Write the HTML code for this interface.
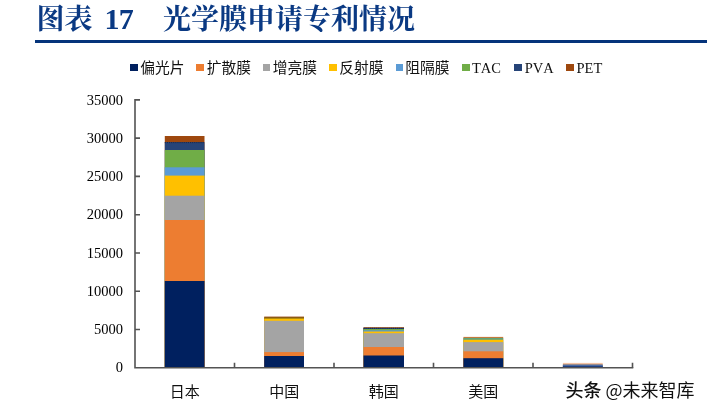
<!DOCTYPE html>
<html lang="zh">
<head>
<meta charset="utf-8">
<title>图表 17 光学膜申请专利情况</title>
<style>
html,body{margin:0;padding:0;background:#fff;}
body{width:707px;height:412px;position:relative;overflow:hidden;font-family:"Liberation Serif","Noto Sans CJK SC",serif;color:#111;font-kerning:none;}
.title{position:absolute;left:37px;top:0;height:40px;line-height:40px;font-size:28px;font-weight:700;color:#0a3983;font-family:"Liberation Serif","Noto Serif CJK SC",serif;white-space:pre;}
.title span{position:absolute;top:0;}
.title .num{font-size:30px;letter-spacing:-0.8px;top:-1.1px;}
.rule{position:absolute;left:34.9px;top:39.9px;width:672.2px;height:2.9px;background:#05347b;}
.legend{position:absolute;top:0;left:0;font-size:14.75px;line-height:20px;}
.legend .it{position:absolute;top:57.6px;white-space:nowrap;}
.legend .la{font-size:14.5px;}
.legend .sq{position:absolute;top:63.8px;width:7.5px;height:7.2px;}
.ylab{position:absolute;left:62.5px;width:60.6px;text-align:right;font-size:14.5px;color:#000;line-height:16px;font-family:"Liberation Serif",serif;}
.xlab{position:absolute;top:380.6px;width:60px;text-align:center;font-size:15px;line-height:20px;font-family:"Noto Sans CJK SC",sans-serif;}
.wm{position:absolute;left:565.4px;top:379.4px;font-size:18px;line-height:20px;font-family:"Noto Sans CJK SC",sans-serif;color:#111;white-space:nowrap;text-shadow:0 0 2px #fff,0 0 2px #fff,1px 1px 1px #fff,-1px -1px 1px #fff;}
.wm b{font-weight:500;}
svg{position:absolute;left:0;top:0;}
</style>
</head>
<body>
<div class="title"><span style="left:-0.6px">图表 </span><span class="num" style="left:67.5px">17 </span><span style="left:126px">光学膜申请专利情况</span></div>
<div class="rule"></div>

<div class="legend">
  <i class="sq" style="left:130.2px;background:#00205f"></i><span class="it" style="left:140.3px">偏光片</span>
  <i class="sq" style="left:196.3px;background:#ed7d31"></i><span class="it" style="left:206.8px">扩散膜</span>
  <i class="sq" style="left:262.7px;background:#a4a4a4"></i><span class="it" style="left:272.8px">增亮膜</span>
  <i class="sq" style="left:329.2px;background:#ffc000"></i><span class="it" style="left:339.2px">反射膜</span>
  <i class="sq" style="left:395.7px;background:#5b9bd5"></i><span class="it" style="left:405.3px">阻隔膜</span>
  <i class="sq" style="left:462.0px;background:#70ad47"></i><span class="it la" style="left:472.0px">TAC</span>
  <i class="sq" style="left:514.1px;background:#264478"></i><span class="it la" style="left:524.8px">PVA</span>
  <i class="sq" style="left:566.0px;background:#9e480e"></i><span class="it la" style="left:576.5px">PET</span>
</div>

<div class="ylab" style="top:91.60px">35000</div>
<div class="ylab" style="top:129.86px">30000</div>
<div class="ylab" style="top:168.12px">25000</div>
<div class="ylab" style="top:206.38px">20000</div>
<div class="ylab" style="top:244.64px">15000</div>
<div class="ylab" style="top:282.90px">10000</div>
<div class="ylab" style="top:321.16px">5000</div>
<div class="ylab" style="top:359.42px">0</div>

<svg width="707" height="412" viewBox="0 0 707 412">
<g>
<rect x="164.80" y="136.00" width="39.70" height="231.30" fill="#9e480e"/>
<rect x="164.80" y="142.10" width="39.70" height="225.20" fill="#264478"/>
<rect x="164.80" y="150.00" width="39.70" height="217.30" fill="#70ad47"/>
<rect x="164.80" y="167.30" width="39.70" height="200.00" fill="#5b9bd5"/>
<rect x="164.80" y="175.60" width="39.70" height="191.70" fill="#ffc000"/>
<rect x="164.80" y="195.70" width="39.70" height="171.60" fill="#a4a4a4"/>
<rect x="164.80" y="220.00" width="39.70" height="147.30" fill="#ed7d31"/>
<rect x="164.80" y="281.00" width="39.70" height="86.30" fill="#00205f"/>
<rect x="264.20" y="316.60" width="39.80" height="50.70" fill="#9e480e"/>
<rect x="264.20" y="317.40" width="39.80" height="49.90" fill="#7f6a1a"/>
<rect x="264.20" y="318.60" width="39.80" height="48.70" fill="#ffc000"/>
<rect x="264.20" y="320.80" width="39.80" height="46.50" fill="#a4a4a4"/>
<rect x="264.20" y="352.10" width="39.80" height="15.20" fill="#ed7d31"/>
<rect x="264.20" y="356.00" width="39.80" height="11.30" fill="#00205f"/>
<rect x="363.50" y="327.20" width="40.50" height="40.10" fill="#9e480e"/>
<rect x="363.50" y="327.90" width="40.50" height="39.40" fill="#264478"/>
<rect x="363.50" y="329.00" width="40.50" height="38.30" fill="#70ad47"/>
<rect x="363.50" y="330.30" width="40.50" height="37.00" fill="#5b9bd5"/>
<rect x="363.50" y="331.50" width="40.50" height="35.80" fill="#ffc000"/>
<rect x="363.50" y="333.20" width="40.50" height="34.10" fill="#a4a4a4"/>
<rect x="363.50" y="347.00" width="40.50" height="20.30" fill="#ed7d31"/>
<rect x="363.50" y="355.50" width="40.50" height="11.80" fill="#00205f"/>
<rect x="463.40" y="336.90" width="39.80" height="30.40" fill="#c47a3a"/>
<rect x="463.40" y="338.00" width="39.80" height="29.30" fill="#5fa37a"/>
<rect x="463.40" y="339.80" width="39.80" height="27.50" fill="#ffc000"/>
<rect x="463.40" y="342.10" width="39.80" height="25.20" fill="#a4a4a4"/>
<rect x="463.40" y="351.30" width="39.80" height="16.00" fill="#ed7d31"/>
<rect x="463.40" y="358.20" width="39.80" height="9.10" fill="#00205f"/>
<rect x="562.90" y="362.90" width="39.80" height="4.40" fill="#f3c3a3"/>
<rect x="562.90" y="364.00" width="39.80" height="3.30" fill="#9a8b8b"/>
<rect x="562.90" y="365.00" width="39.80" height="2.30" fill="#5577ad"/>
<rect x="562.90" y="365.80" width="39.80" height="1.50" fill="#1f3f80"/>
<path d="M164.8 142.6H204.5M363.5 328.3H404" fill="none" stroke="#14254a" stroke-width="0.9" stroke-dasharray="1.1 1"/>
</g>
<g fill="none" stroke="#535353" stroke-width="1.6">
<path d="M135.0 99.10V368.50M134.20 367.7H633.30"/>
<path d="M135.0 99.90H140.00M135.0 138.16H140.00M135.0 176.42H140.00M135.0 214.68H140.00M135.0 252.94H140.00M135.0 291.20H140.00M135.0 329.46H140.00M234.50 367.7V362.70M334.00 367.7V362.70M433.50 367.7V362.70M533.00 367.7V362.70M632.50 367.7V362.70"/>
</g>
</svg>

<div class="xlab" style="left:154.65px">日本</div>
<div class="xlab" style="left:254.15px">中国</div>
<div class="xlab" style="left:353.65px">韩国</div>
<div class="xlab" style="left:453.15px">美国</div>
<div class="wm"><b>头条</b> @未来智库</div>
</body>
</html>
